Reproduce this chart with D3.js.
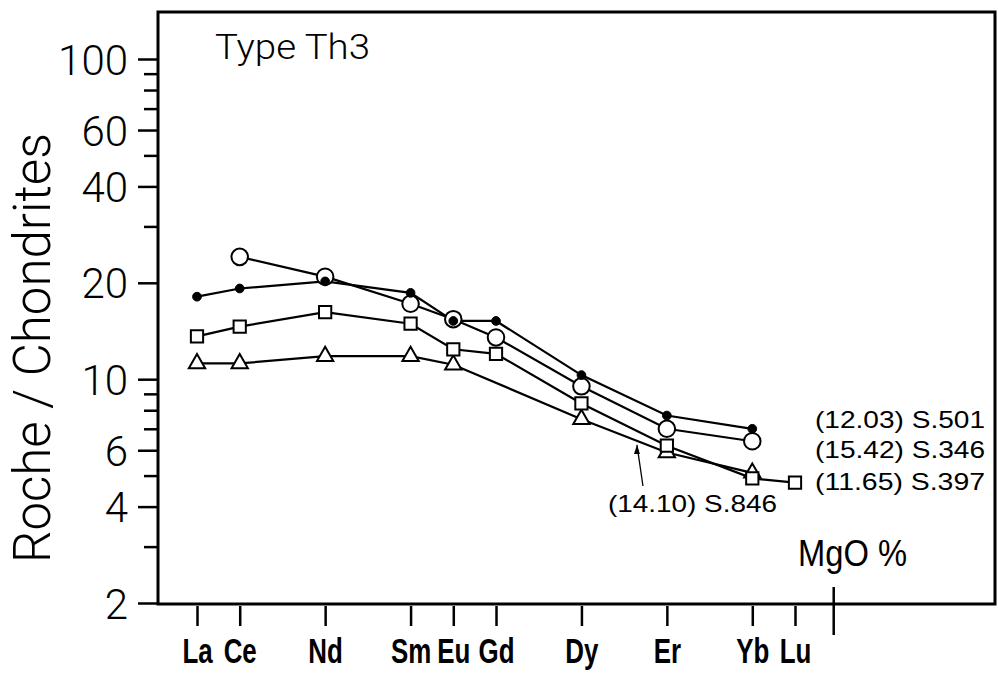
<!DOCTYPE html>
<html>
<head>
<meta charset="utf-8">
<script src="https://cdn.jsdelivr.net/npm/d3@7"></script>
<style>
  html, body { margin: 0; padding: 0; background: #fff; }
  svg { display: block; }
  text { font-family: "Liberation Sans", Arial, sans-serif; fill: #000; }
  .light { font-family: Roboto, "Liberation Sans", Arial, sans-serif; font-weight: 300; }
</style>
</head>
<body>
<svg id="chart" width="998" height="677"></svg>
<script>
// Rare earth elements on the x axis, placed by atomic number
const elements = ["La", "Ce", "Nd", "Sm", "Eu", "Gd", "Dy", "Er", "Yb", "Lu"];
const atomicNumbers = [57, 58, 60, 62, 63, 64, 66, 68, 70, 71];

// Chondrite-normalised abundances per sample (null = not analysed)
const s501 = [18.1, 19.2, 20.2, 18.6, 15.2, 15.2, 10.3, 7.7, 7.0, null];
const s346 = [null, 24.1, 20.9, 17.2, 15.4, 13.5, 9.5, 7.0, 6.4, null];
const s397 = [13.6, 14.6, 16.2, 14.9, 12.4, 12.0, 8.4, 6.2, 4.9, 4.75];
const s846 = [11.2, 11.2, 11.8, 11.8, 11.1, null, 7.5, 5.9, 5.1, null];

// Sample names and their MgO contents
const sampleNames = ["S.501", "S.346", "S.397", "S.846"];
const mgoValues = ["12.03", "15.42", "11.65", "14.10"];

// Log axis ticks and the ones that carry labels
const yTicks = [2, 3, 4, 5, 6, 7, 8, 9, 10, 20, 30, 40, 50, 60, 70, 80, 90, 100];
const yTickLabels = [2, 4, 6, 10, 20, 40, 60, 100];

const svg = d3.select("#chart");

const frame = { left: 158, top: 12, right: 995, bottom: 604 };

const x = d3.scaleLinear().domain([57, 71]).range([197, 795]);
const y = d3.scaleLog().domain([2, 100]).range([603, 59]);

// Plot frame
svg.append("path")
  .attr("d", `M${frame.left},${frame.bottom} L${frame.left},${frame.top} L${frame.right},${frame.top} L${frame.right},${frame.bottom} Z`)
  .attr("fill", "none").attr("stroke", "#000").attr("stroke-width", 3);

// Y axis: ticks pointing outward to the left
const yAxis = d3.axisLeft(y)
  .tickValues(yTicks)
  .tickSize(0)
  .tickFormat("");
const yAxisG = svg.append("g").attr("transform", `translate(${frame.left},0)`).call(yAxis);
yAxisG.select(".domain").remove();
yAxisG.selectAll(".tick line").remove();
yAxisG.selectAll(".tick").append("line")
  .attr("x1", d => yTickLabels.includes(d) ? -20 : -14)
  .attr("x2", 0)
  .attr("stroke", "#000").attr("stroke-width", 2.5);
yAxisG.selectAll(".tick").filter(d => yTickLabels.includes(d)).append("text")
  .attr("class", "light")
  .attr("x", -30)
  .attr("dy", "0.36em")
  .attr("text-anchor", "end")
  .style("font-size", "42px")
  .text(d => d);

// Y axis title
svg.append("text")
  .attr("class", "light")
  .attr("transform", "translate(50,348) rotate(-90)")
  .attr("text-anchor", "middle")
  .attr("textLength", 430)
  .attr("lengthAdjust", "spacingAndGlyphs")
  .style("font-size", "52px")
  .text("Roche / Chondrites");

// X axis: element ticks hanging below the frame
const xAxis = d3.axisBottom(x)
  .tickValues(atomicNumbers)
  .tickSize(0)
  .tickFormat("");
const xAxisG = svg.append("g").attr("transform", `translate(0,${frame.bottom})`).call(xAxis);
xAxisG.select(".domain").remove();
xAxisG.selectAll(".tick line").remove();
xAxisG.selectAll(".tick").append("line")
  .attr("y1", 2).attr("y2", 22)
  .attr("stroke", "#000").attr("stroke-width", 2.5);
xAxisG.selectAll(".tick").append("text")
  .attr("transform", "translate(0,59) scale(0.72,1)")
  .attr("text-anchor", "middle")
  .style("font-size", "36px")
  .style("font-weight", "bold")
  .text((d, i) => elements[i]);

// MgO column marker
const mgoX = x(72) - 4;
svg.append("line")
  .attr("x1", mgoX).attr("x2", mgoX)
  .attr("y1", frame.bottom - 17).attr("y2", frame.bottom + 31)
  .attr("stroke", "#000").attr("stroke-width", 2.5);
svg.append("text")
  .attr("x", 798).attr("y", 566)
  .attr("textLength", 109)
  .attr("lengthAdjust", "spacingAndGlyphs")
  .style("font-size", "37px")
  .text("MgO %");

// Title
svg.append("text")
  .attr("class", "light")
  .attr("x", 215).attr("y", 59)
  .attr("textLength", 155)
  .attr("lengthAdjust", "spacingAndGlyphs")
  .style("font-size", "35px")
  .text("Type  Th3");

// Series
const series = [
  { name: sampleNames[0], mgo: mgoValues[0], values: s501, marker: "dot" },
  { name: sampleNames[1], mgo: mgoValues[1], values: s346, marker: "circle" },
  { name: sampleNames[2], mgo: mgoValues[2], values: s397, marker: "square" },
  { name: sampleNames[3], mgo: mgoValues[3], values: s846, marker: "triangle" }
];

const pointsOf = s => s.values
  .map((v, i) => ({ z: atomicNumbers[i], v }))
  .filter(p => p.v !== null);

const line = d3.line().x(p => x(p.z)).y(p => y(p.v));

series.forEach(s => {
  svg.append("path")
    .attr("d", line(pointsOf(s)))
    .attr("fill", "none")
    .attr("stroke", "#000")
    .attr("stroke-width", 2.2);
});

const symbolFor = {
  triangle: d3.symbol().type(d3.symbolTriangle).size(115),
  square: d3.symbol().type(d3.symbolSquare).size(150),
  circle: d3.symbol().type(d3.symbolCircle).size(215),
  dot: d3.symbol().type(d3.symbolCircle).size(60)
};

// Draw markers so that small filled dots sit on top of the open circles
["triangle", "square", "circle", "dot"].forEach(kind => {
  series.filter(s => s.marker === kind).forEach(s => {
    svg.append("g").selectAll("path")
      .data(pointsOf(s))
      .join("path")
      .attr("transform", p => `translate(${x(p.z)},${y(p.v)})`)
      .attr("d", symbolFor[kind]())
      .attr("fill", kind === "dot" ? "#000" : "#fff")
      .attr("stroke", "#000")
      .attr("stroke-width", kind === "dot" ? 1 : 2);
  });
});

// Sample labels at the right end of the curves
const labelFont = "24px";
const rightLabels = [
  { s: series[0], yPos: 428 },
  { s: series[1], yPos: 458 },
  { s: series[2], yPos: 490 }
];
rightLabels.forEach(l => {
  svg.append("text")
    .attr("x", 815).attr("y", l.yPos)
    .attr("textLength", 170)
    .attr("lengthAdjust", "spacingAndGlyphs")
    .style("font-size", labelFont)
    .text(`(${l.s.mgo}) ${l.s.name}`);
});

// Label for the triangle curve with an arrow pointing onto it
const tri = series[3];
svg.append("text")
  .attr("x", 608).attr("y", 512)
  .attr("textLength", 169)
  .attr("lengthAdjust", "spacingAndGlyphs")
  .style("font-size", labelFont)
  .text(`(${tri.mgo}) ${tri.name}`);

const dyIdx = elements.indexOf("Dy"), erIdx = elements.indexOf("Er");
const t = 0.65;
const ax = x(atomicNumbers[dyIdx]) + t * (x(atomicNumbers[erIdx]) - x(atomicNumbers[dyIdx]));
const ay = y(tri.values[dyIdx]) + t * (y(tri.values[erIdx]) - y(tri.values[dyIdx])) + 4;
svg.append("line")
  .attr("x1", ax + 6).attr("y1", 486)
  .attr("x2", ax).attr("y2", ay)
  .attr("stroke", "#000").attr("stroke-width", 1.3);
svg.append("path")
  .attr("d", `M${ax},${ay} l-3,9 l6,0 Z`)
  .attr("fill", "#000");
</script>
</body>
</html>
